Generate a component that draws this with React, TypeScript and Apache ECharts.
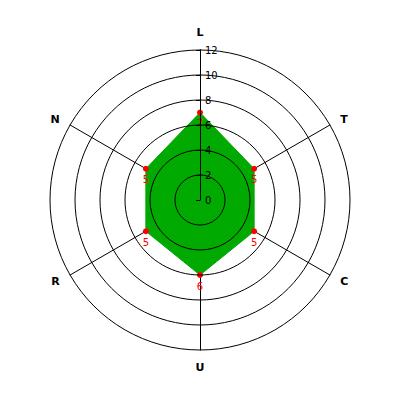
import React, { useEffect, useRef } from "react";
import * as echarts from "echarts";

// indicators listed counter-clockwise from the top (ECharts radar order)
const indicators = ["L", "N", "R", "U", "C", "T"];
const values = [7, 5, 5, 6, 5, 5];
const axisMax = 12;
const axisInterval = 2;

export default function App() {
  const ref = useRef<HTMLDivElement>(null);
  useEffect(() => {
    const chart = echarts.init(ref.current!, null, { renderer: "svg" });
    chart.setOption({
      animation: false,
      backgroundColor: "#ffffff",
      textStyle: { fontFamily: "DejaVu Sans" },
      radar: {
        center: [200, 200],
        radius: 150,
        startAngle: 90,
        shape: "circle",
        indicator: indicators.map((n) => ({ name: n, min: 0, max: axisMax })),
        axisName: { color: "#000", fontWeight: "bold", fontSize: 11 },
        nameGap: 12,
        splitNumber: 6,
        axisLine: { lineStyle: { color: "#000", width: 1 } },
        splitLine: { show: false },
        splitArea: { show: false },
      },
      polar: [
        { center: [200, 200], radius: 150 },
        { center: [200, 200], radius: 150 },
      ],
      angleAxis: [
        { polarIndex: 0, type: "value", min: 0, max: 360, startAngle: 90, show: false },
        { polarIndex: 1, type: "value", min: 0, max: 360, startAngle: 90, show: false },
      ],
      radiusAxis: [
        {
          polarIndex: 0,
          type: "value",
          min: 0,
          max: axisMax,
          interval: axisInterval,
          z: 10,
          axisLine: { lineStyle: { color: "#000", width: 1 } },
          axisTick: { show: true, inside: true, length: 4, lineStyle: { color: "#000" } },
          axisLabel: { color: "#000", fontSize: 10, margin: -5, align: "left" },
          splitLine: { show: true, lineStyle: { color: "#000", width: 1 } },
        },
        {
          polarIndex: 1,
          type: "value",
          min: 0,
          max: axisMax,
          interval: axisInterval,
          z: 10,
          axisLine: { show: false },
          axisTick: { show: true, inside: false, length: 4, lineStyle: { color: "#000" } },
          axisLabel: { show: false },
          splitLine: { show: false },
        },
      ],
      series: [
        {
          type: "radar",
          radarIndex: 0,
          z: 3,
          symbol: "circle",
          symbolSize: 6,
          itemStyle: { color: "#ff0000" },
          lineStyle: { color: "#00aa00", width: 1 },
          areaStyle: { color: "#00aa00", opacity: 1 },
          label: { show: true, color: "#ff0000", position: "bottom", fontSize: 10, distance: 3 },
          data: [{ value: values }],
        },
      ],
    });
    return () => chart.dispose();
  }, []);
  return (
    <div
      ref={ref}
      style={{ position: "fixed", left: 0, top: 0, width: 400, height: 400 }}
    />
  );
}
